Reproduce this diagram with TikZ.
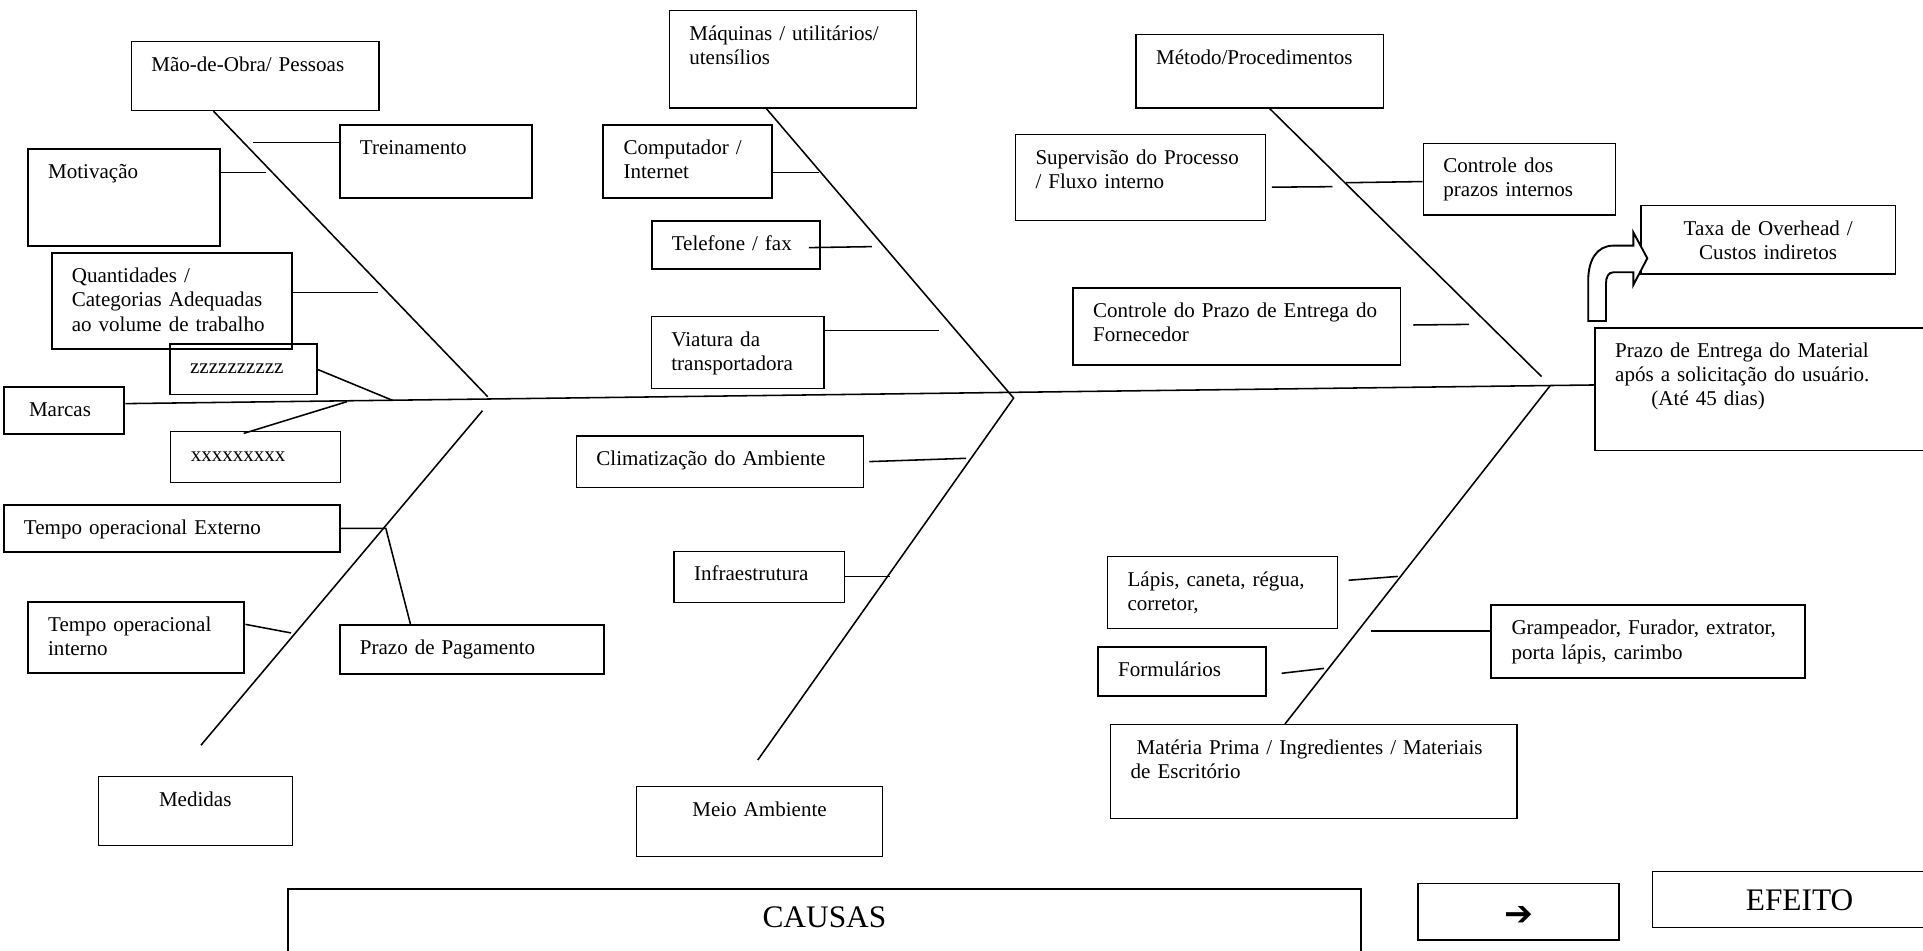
\documentclass[tikz,border=0pt]{standalone}
\usepackage{fontspec}
\setmainfont{Liberation Serif}
\newfontfamily\dejavu{DejaVu Sans}
\usetikzlibrary{calc}

\newcommand{\fonte}{\fontsize{12.2}{14}\selectfont}
\newcommand{\fontegrande}{\fontsize{18.2}{21}\selectfont}
\newcommand{\cxtopo}{17.1pt}

% caixa: [opcoes]{nome}{x1}{y1}{x2}{y2}{texto}
\newcommand{\caixa}[7][]{%
  \pgfmathsetlengthmacro{\cxlarg}{(#5-#3)*0.025cm}%
  \pgfmathsetlengthmacro{\cxalt}{(#6-#4)*0.025cm}%
  \pgfmathsetlengthmacro{\cxtexto}{(#5-#3)*0.025cm-23.4pt}%
  \pgfmathsetlengthmacro{\cxfundo}{(#6-#4)*0.025cm-\cxtopo}%
  \node[caixa, minimum width=\cxlarg, minimum height=\cxalt, text width=\cxtexto,
        text height=\cxtopo, text depth=\cxfundo, #1] (#2) at (#3,#4) {#7};}

\begin{document}
\begin{tikzpicture}[x=0.025cm, y=-0.025cm,
    caixa/.style={draw, rectangle, anchor=north west, inner xsep=11.7pt, inner ysep=0pt,
                  align=left, line width=0.7pt, font=\fonte},
    caixa grossa/.style={line width=1.15pt},
    centro/.style={align=center},
    espinha/.style={line width=0.9pt},
    ligacao/.style={line width=0.9pt},
    seta curva/.style={draw, line width=1.1pt, fill=white}]
\useasboundingbox (0,0) rectangle (1568,775);
\clip (0,0) rectangle (1568,775);

\caixa{mao}{106.5}{33.4}{308.5}{89.7}{M\~ao-de-Obra/ Pessoas}
\caixa[caixa grossa]{trein}{276.2}{101.4}{432.7}{160.4}{Treinamento}
\caixa[caixa grossa]{motiv}{22}{121}{178.7}{199.8}{Motivação}
\caixa[caixa grossa]{quant}{41.3}{205.7}{237.3}{284}{Quantidades /\\Categorias Adequadas\\ao volume de trabalho}
\caixa{zzz}{138.1}{280}{258}{321.5}{zzzzzzzzzz}
\caixa[caixa grossa]{marcas}{2.2}{314.7}{100.6}{353.3}{\hspace*{3pt}Marcas}
\caixa{xxx}{138.6}{351.4}{277.2}{392.8}{xxxxxxxxx}
\caixa[caixa grossa]{text}{2.3}{411}{276.2}{449}{Tempo operacional Externo}
\caixa[caixa grossa]{tint}{22}{489.8}{198.5}{548.2}{Tempo operacional\\interno}
\caixa[caixa grossa]{pgto}{276.2}{509}{491.5}{548.5}{Prazo de Pagamento}
\caixa[centro]{medidas}{79.6}{632.7}{237.8}{689}{Medidas}

\caixa{maq}{545.1}{8.2}{747.1}{87.5}{Máquinas / utilitários/\\utensílios}
\caixa[caixa grossa]{comp}{491.2}{101.4}{628.8}{160.4}{Computador /\\Internet}
\caixa[caixa grossa]{tel}{530.5}{179.4}{667.7}{218.8}{Telefone / fax}
\caixa{viat}{530.5}{257.7}{671.4}{316.6}{Viatura da\\transportadora}
\caixa{clima}{469.4}{355}{703.4}{396.8}{Climatização do Ambiente}
\caixa{infra}{549}{449}{688.1}{490.6}{Infraestrutura}
\caixa[centro]{meio}{518.2}{640.9}{719.4}{697.7}{Meio Ambiente}

\caixa{metodo}{925.8}{27.7}{1127.4}{87.5}{Método/Procedimentos}
\caixa{superv}{827.4}{109.5}{1031.4}{179.4}{Supervisão do Processo\\/ Fluxo interno}
\caixa{ctrlint}{1160}{116.3}{1316.9}{174.8}{Controle dos\\prazos internos}
\caixa[centro]{taxa}{1337.6}{167.2}{1544.9}{222.9}{Taxa de Overhead /\\Custos indiretos}
\caixa{ctrlforn}{874.4}{234.3}{1141.7}{297.1}{Controle do Prazo de Entrega do\\Fornecedor}
\caixa{prazo}{1300.1}{266.9}{1600}{366.9}{Prazo de Entrega do Material\\após a solicitação do usuário.\\\hspace*{21pt}(Até 45 dias)}
\caixa{lapis}{902.5}{453.4}{1090.4}{512.3}{Lápis, caneta, régua,\\corretor,}
\caixa[caixa grossa]{gramp}{1215.2}{492.8}{1470.6}{551.8}{Grampeador, Furador, extrator,\\porta lápis, carimbo}
\caixa[caixa grossa]{form}{894.5}{526.7}{1031.7}{566.7}{Formulários}
\caixa{materia}{905}{590.4}{1236.5}{666.7}{\hspace*{3.5pt}Matéria Prima / Ingredientes / Materiais\\de Escritório}

\renewcommand{\cxtopo}{22.3pt}
\caixa[centro, caixa grossa, font=\fontegrande]{causas}{234}{724.3}{1108.9}{790}{CAUSAS}
\caixa[centro, font=\fontegrande]{efeito}{1346.8}{710.2}{1587}{756}{EFEITO}
\renewcommand{\cxtopo}{24.7pt}
\caixa[centro, line width=0.9pt]{seta}{1155.7}{719.6}{1319.4}{766}{{\dejavu\fontsize{20}{22}\selectfont ➔}}

% pontos nas espinhas
\coordinate (cab mao) at (397.7,323.5);
\coordinate (med topo) at (393.4,334.9);
\coordinate (med fim) at (163.8,607.7);
\coordinate (cab maq) at (826.5,324.6);
\coordinate (meio fim) at (617.9,619.7);
\coordinate (met fim) at (1257,307.1);
\coordinate (cab mat) at (1264.1,314.3);

\coordinate (p trein) at (206.3,116.3);
\coordinate (p motiv) at (217,140.5);
\coordinate (p quant) at (308.5,238.4);
\coordinate (p zzz) at (320.2,326.5);
\coordinate (p xxx) at (282.9,327.5);
\coordinate (p text) at (314.6,430.8);
\coordinate (p tint) at (237.3,516.1);
\coordinate (p comp) at (667.8,140.5);
\coordinate (p tel) at (711,201.1);
\coordinate (p viat) at (765.3,269.6);
\coordinate (p clima) at (787.7,373.7);
\coordinate (p infra) at (725.5,470.2);
\coordinate (p superv) at (1086.5,152.2);
\coordinate (p ctrlint) at (1097.5,149);
\coordinate (p ctrlforn) at (1197.8,264.5);
\coordinate (p lapis) at (1139.7,470);
\coordinate (p gramp) at (1117.9,514.5);
\coordinate (p form) at (1079.6,545);

% espinha principal e espinhas
\draw[espinha] ($(marcas.east)+(0,-5.7)$) -- ($(prazo.west)+(0,-3.5)$);
\draw[espinha] ($(mao.south west)+(67.6,0)$) -- (cab mao);
\draw[espinha] (med topo) -- (med fim);
\draw[espinha] ($(maq.south west)+(79.7,0)$) -- (cab maq) -- (meio fim);
\draw[espinha] ($(metodo.south west)+(109.4,0)$) -- (met fim);
\draw[espinha] (cab mat) -- ($(materia.north west)+(142.7,0)$);

\draw[ligacao] (trein.west |- p trein) -- (p trein);
\draw[ligacao] (motiv.east |- p motiv) -- (p motiv);
\draw[ligacao] (quant.east |- p quant) -- (p quant);
\draw[ligacao] (zzz.east) -- (p zzz);
\draw[ligacao] ($(xxx.north west)+(60.1,2)$) -- (p xxx);
\draw[ligacao] (text.east |- p text) -- (p text) -- ($(pgto.north west)+(58.5,0)$);
\draw[ligacao] ($(tint.north east)+(0,19.3)$) -- (p tint);
\draw[ligacao] (comp.east |- p comp) -- (p comp);
\draw[ligacao] ($(tel.east)+(-9.7,2)$) -- (p tel);
\draw[ligacao] (viat.east |- p viat) -- (p viat);
\draw[ligacao] ($(clima.east)+(4.4,0)$) -- (p clima);
\draw[ligacao] (infra.east |- p infra) -- (p infra);
\draw[ligacao] ($(superv.east)+(4.7,7.7)$) -- (p superv);
\draw[ligacao] (p ctrlint) -- ($(ctrlint.west)+(0,2)$);
\draw[ligacao] ($(ctrlforn.east)+(9.7,-1.2)$) -- (p ctrlforn);
\draw[ligacao] ($(lapis.east)+(8.3,-10.2)$) -- (p lapis);
\draw[ligacao] (p gramp) -- (gramp.west |- p gramp);
\draw[ligacao] ($(form.east)+(11.7,1.5)$) -- (p form);

% seta curva para a taxa
\draw[seta curva] (1295,261.7) -- (1295,229) .. controls (1295,212) and (1302,200.3) .. (1315.5,200.3)
  -- (1331.8,200.3) -- (1331.8,189.4) -- (1343.2,210.6) -- (1331.8,232.4) -- (1331.8,222)
  -- (1315.5,222) .. controls (1311.5,222) and (1309.5,226) .. (1309.5,231) -- (1309.5,261.7) -- cycle;
\end{tikzpicture}
\end{document}
